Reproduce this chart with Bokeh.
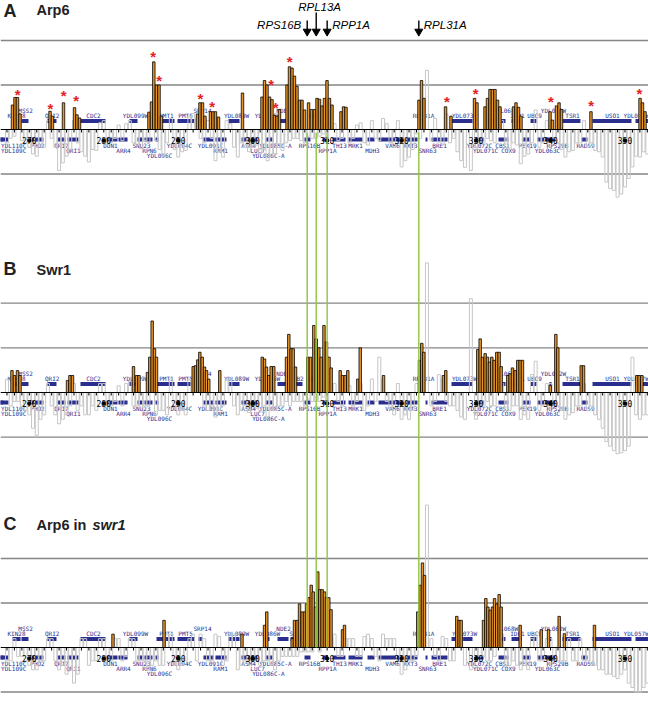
from bokeh.plotting import figure
from bokeh.models import Range1d
from bokeh.core.properties import value
from bokeh.embed import file_html
from bokeh.resources import INLINE

# ---------------- data (kb on chromosome IV, enrichment units) ----------------
a_orange_kb = [267.74, 268.08, 268.41, 268.75, 272.78, 273.11, 274.59, 276.07, 276.40, 276.74,
               286.07, 286.41, 286.72, 287.08, 287.42, 287.75, 292.59, 292.92, 293.26, 293.59,
               294.33, 294.67, 295.00, 295.41, 298.63, 301.25, 301.59, 301.92, 302.26, 302.59,
               302.93, 303.26, 303.60, 304.61, 304.94, 305.28, 305.61, 305.95, 306.29, 306.62,
               306.96, 307.50, 307.90, 308.30, 308.64, 308.97, 309.31, 309.64, 309.98, 310.31,
               310.65, 311.86, 312.20, 312.53, 322.33, 322.67, 323.00, 325.90, 326.63, 329.79,
               330.12, 331.20, 331.53, 331.87, 332.20, 332.54, 332.88, 333.21, 335.03, 335.36,
               335.70, 336.03, 339.93, 340.26, 340.80, 341.14, 341.47, 345.43, 352.02, 352.35,
               352.69]
a_orange_val = [0.55, 0.72, 0.72, 0.35, 0.41, 0.30, 0.60, 0.49, 0.33, 0.26,
                0.39, 0.62, 1.52, 1.00, 1.00, 0.30, 0.35, 0.60, 0.60, 0.30,
                0.40, 0.40, 0.40, 0.28, 0.82, 0.73, 1.10, 1.00, 0.73, 0.67,
                0.32, 0.30, 0.45, 1.00, 1.41, 1.38, 1.20, 0.97, 0.66, 0.66,
                0.44, 0.60, 0.45, 0.45, 0.70, 0.68, 0.53, 0.70, 1.10, 0.70,
                0.55, 0.40, 0.51, 0.50, 0.66, 1.10, 0.70, 0.51, 0.30, 0.70,
                0.60, 0.51, 0.70, 0.90, 0.90, 0.90, 0.66, 0.51, 0.51, 0.60,
                0.50, 0.30, 0.40, 0.21, 0.53, 0.60, 0.45, 0.40, 0.70, 0.60,
                0.40]

b_orange_kb = [267.67, 268.01, 268.41, 268.75, 275.13, 275.46, 275.80, 283.99, 284.40, 284.73,
               285.87, 286.18, 286.50, 286.81, 287.08, 292.01, 292.32, 292.63, 292.90, 293.22,
               293.53, 293.80, 294.10, 295.58, 301.28, 301.59, 301.85, 302.16, 302.48, 302.83,
               304.54, 304.85, 305.17, 305.44, 305.75, 307.40, 307.76, 308.21, 308.53, 308.88,
               309.20, 309.57, 309.91, 310.25, 310.54, 311.75, 312.06, 312.42, 312.77, 314.12,
               314.44, 317.57, 322.40, 322.71, 322.98, 325.62, 325.93, 330.23, 330.55, 330.86,
               331.22, 331.53, 331.80, 332.11, 332.43, 332.78, 333.10, 333.37, 334.26, 334.58,
               334.89, 335.25, 335.60, 335.92, 336.23, 339.96, 340.71, 340.98, 344.12, 344.43,
               351.59, 351.90, 352.26]
b_orange_val = [0.49, 0.38, 0.49, 0.38, 0.27, 0.38, 0.38, 0.58, 0.38, 0.38,
                0.45, 0.79, 1.60, 0.98, 0.79, 0.58, 0.60, 0.73, 0.90, 0.79,
                0.57, 0.49, 0.30, 0.49, 0.79, 0.75, 0.57, 0.38, 0.58, 0.58,
                0.79, 1.30, 0.98, 0.98, 0.57, 0.79, 0.79, 1.50, 1.20, 1.00,
                0.79, 1.50, 1.13, 0.79, 0.55, 0.49, 0.38, 0.38, 0.49, 0.30,
                1.00, 0.38, 0.72, 1.10, 0.90, 0.38, 0.49, 0.96, 1.20, 0.79,
                0.87, 0.79, 0.68, 0.79, 0.72, 0.90, 0.90, 0.58, 0.38, 0.42,
                0.55, 0.49, 0.72, 0.72, 0.72, 0.16, 1.30, 1.00, 0.60, 0.60,
                0.38, 0.38, 0.38]

c_orange_kb = [281.24, 288.09, 298.56, 301.59, 301.89, 305.30, 305.61, 305.97, 306.29, 306.65,
               306.96, 307.23, 307.54, 307.86, 308.13, 308.44, 308.74, 309.01, 309.33, 309.64,
               309.91, 310.22, 310.52, 312.06, 312.33, 322.17, 322.49, 322.80, 323.07, 327.41,
               327.73, 328.00, 331.00, 331.31, 331.58, 331.90, 332.21, 332.48, 332.78, 333.10,
               333.37, 335.92, 338.75, 339.73, 341.16, 341.87, 345.90]
c_orange_val = [0.30, 0.61, 0.30, 0.50, 0.80, 0.20, 0.61, 0.61, 0.98, 0.80,
                0.80, 0.98, 1.12, 1.40, 1.25, 0.91, 1.70, 1.30, 1.30, 1.25,
                1.12, 1.12, 0.85, 0.40, 0.50, 0.80, 1.40, 1.90, 1.62, 0.70,
                0.61, 0.61, 0.61, 1.10, 0.91, 0.84, 0.91, 1.10, 0.98, 1.19,
                0.91, 0.50, 0.40, 0.40, 0.70, 0.31, 0.50]

probe_kb = [267, 268, 269, 270, 271, 272, 273, 274, 275, 276, 277, 278, 279, 280, 281, 282,
            283, 284, 285, 286, 287, 288, 289, 290, 291, 292, 293, 294, 295, 296, 297, 298,
            299, 300, 301, 302, 303, 304, 305, 306, 307, 308, 309, 310, 311, 312, 313, 314,
            315, 316, 317, 318, 319, 320, 321, 322, 323.4, 324, 325, 326, 327, 328, 329.3,
            330, 331, 332, 333, 334, 335, 336, 337, 338, 339, 340, 341, 342, 343, 344, 345,
            346, 347, 348, 349, 350, 351, 352, 353]
a_gray = [-0.30, -0.15, -0.25, -0.40, -0.60, -0.40, -0.20, -0.92, -0.60, 0.20, -0.50, -0.73,
          -0.47, 0.20, -0.30, 0.10, 0.13, -0.30, -0.43, -0.30, -0.25, -0.62, 0.25, -0.62,
          -0.47, 0.36, -0.20, 0.20, -0.70, -0.62, 0.13, -0.62, -0.40, -0.40, -0.55, -0.70,
          -0.55, -0.47, -0.25, -0.20, -0.30, -0.20, -0.15, -0.20, 0.13, -0.20, -0.30, 0.10,
          -0.30, 0.20, -0.25, 0.13, -0.40, -0.84, -0.62, -0.10, 1.33, -0.25, -0.28, 0.36,
          -0.20, -0.70, -0.92, -0.40, -0.30, -0.25, 0.25, -0.40, -0.30, -0.77, -0.55, 0.44,
          -0.30, 0.15, -0.30, -0.62, -0.47, -0.30, -0.40, -0.47, -0.62, -1.33, -1.52, -1.29,
          -0.84, -0.62, -0.55]
b_gray = [0.30, -0.20, -0.30, -0.50, -0.96, -0.50, -0.30, -0.70, -0.50, 0.20, -0.30, -0.50,
          -0.40, 0.20, -0.30, 0.15, 0.20, -0.30, -0.35, -0.30, -0.50, -0.40, 0.30, -0.50,
          -0.50, 0.30, 0.20, -0.40, -0.55, -0.30, 0.30, -0.50, -0.30, -0.30, -0.40, -0.55,
          -0.40, -0.30, -0.30, -0.20, -0.30, -0.20, -0.20, -0.20, 0.20, -0.30, 0.15, -0.20,
          -0.40, 0.30, 0.79, -0.20, -0.50, -0.60, -0.60, 0.20, 2.90, -0.30, 0.40, -0.20,
          -0.30, -0.55, 2.10, -0.60, -0.30, -0.30, 0.30, -0.40, -0.30, -0.60, -0.60, 0.70,
          -0.30, 0.20, -0.30, -0.60, -0.45, -0.30, -0.40, -0.50, -0.80, -1.20, -1.37, -1.30,
          0.79, -0.60, -0.50]
c_gray = [-0.30, 0.20, -0.20, -0.40, -0.50, -0.30, 0.20, -0.50, -0.60, -0.80, 0.20, -0.40,
          -0.30, 0.20, -0.30, 0.20, -0.20, 0.20, -0.30, -0.50, -0.30, -0.40, 0.30, -0.50,
          -0.30, 0.30, 0.30, -0.30, 0.30, -0.40, 0.30, -0.50, -0.30, -0.30, -0.40, -0.30,
          -0.50, -0.20, -0.20, -0.20, -0.10, -0.10, -0.10, 0.20, 0.30, -0.20, 0.20, -0.20,
          0.25, 0.20, -0.30, 0.20, 0.20, -0.60, -0.30, -0.20, 3.20, 0.20, -0.30, 0.20,
          -0.30, 0.30, -0.50, -0.30, -0.20, -0.30, 0.30, -0.40, -0.30, -0.50, -0.50, 0.30,
          -0.30, 0.20, -0.30, -0.30, -0.30, 0.20, -0.30, -0.40, -0.50, -0.60, -0.70, -0.50,
          -0.90, -1.00, -0.80]

probe2_kb = [267.5, 268.5, 269.5, 270.5, 271.5, 272.5, 273.5, 274.5, 275.5, 276.5,
             277.5, 278.5, 279.5, 280.5, 281.5, 282.5, 283.5, 284.5, 285.5, 286.5,
             287.5, 288.5, 289.5, 290.5, 291.5, 292.5, 293.5, 294.5, 295.5, 296.5,
             297.5, 298.5, 299.5, 300.5, 301.5, 302.5, 303.5, 304.5, 305.5, 306.5,
             307.5, 308.5, 309.5, 310.5, 311.5, 312.5, 313.5, 314.5, 315.5, 316.5,
             317.5, 318.5, 319.5, 320.5, 321.5, 322.5, 324.5, 325.5, 326.5, 327.5,
             328.5, 330.5, 331.5, 332.5, 333.5, 334.5, 335.5, 336.5, 337.5, 338.5,
             339.5, 340.5, 341.5, 342.5, 343.5, 344.5, 345.5, 346.5, 347.5, 348.5,
             349.5, 350.5, 351.5, 352.5]
a_gray2 = [-0.20, 0.15, -0.30, -0.55, -0.35, 0.20, -0.40, -0.75, -0.45, -0.30,
           -0.60, -0.45, 0.15, -0.35, -0.20, -0.25, 0.20, -0.35, -0.25, 0.30,
           -0.45, -0.30, -0.45, -0.50, 0.30, 0.25, -0.30, -0.20, -0.50, 0.20,
           -0.40, -0.30, -0.50, -0.35, -0.45, -0.60, -0.40, -0.30, -0.20, -0.25,
           -0.15, -0.20, -0.10, 0.15, -0.25, 0.20, -0.20, 0.15, -0.35, -0.20,
           0.25, -0.30, 0.20, -0.70, -0.45, -0.20, 0.25, -0.35, -0.30, -0.50,
           -0.85, -0.30, -0.20, -0.30, 0.20, -0.45, -0.35, -0.60, -0.30, -0.40,
           0.20, -0.20, -0.45, -0.50, -0.30, 0.20, -0.30, -0.50, -1.18, -1.37,
           -1.45, -1.10, -0.60, -0.50]
b_gray2 = [-0.30, -0.20, -0.40, -0.80, -0.60, 0.20, -0.50, -0.60, -0.30, -0.40,
           -0.50, -0.30, 0.20, -0.30, -0.20, -0.30, 0.25, -0.30, -0.30, 0.30,
           -0.40, -0.50, -0.30, -0.40, 0.30, 0.20, -0.30, -0.30, -0.40, 0.30,
           -0.30, -0.40, -0.45, -0.35, -0.30, -0.40, -0.30, -0.20, -0.20, -0.20,
           -0.15, -0.20, -0.10, 0.20, -0.20, 0.20, -0.30, 0.20, -0.30, -0.20,
           0.30, -0.35, 0.20, -0.50, -0.40, 0.25, -0.20, 0.30, -0.30, -0.40,
           -0.60, -0.30, -0.20, -0.30, 0.20, -0.40, -0.30, -0.50, 0.40, -0.40,
           0.20, -0.30, -0.40, -0.50, -0.30, 0.20, -0.30, -0.60, -1.10, -1.30,
           -1.35, -1.20, -0.50, -0.50]
c_gray2 = [-0.30, -0.20, -0.30, -0.50, -0.30, 0.20, -0.30, -0.40, -0.50, -0.60,
           0.20, -0.30, 0.20, -0.30, 0.20, -0.30, 0.20, -0.30, -0.30, -0.40,
           -0.40, 0.30, -0.40, -0.40, 0.20, -0.30, 0.20, -0.30, 0.25, -0.30,
           0.30, -0.40, -0.30, -0.30, -0.30, -0.40, -0.30, -0.20, -0.20, -0.10,
           -0.10, 0.15, 0.20, 0.20, -0.20, 0.20, 0.20, -0.20, 0.30, -0.20,
           0.30, 0.20, -0.30, -0.50, -0.30, 0.20, -0.20, 0.25, -0.30, 0.20,
           -0.40, -0.20, -0.30, -0.20, 0.30, -0.40, -0.40, -0.40, 0.20, -0.30,
           0.20, -0.30, -0.30, 0.20, -0.30, -0.30, -0.40, -0.50, -0.60, -0.65,
           -0.60, -0.80, -1.00, -0.90]

star_kb = [268.45, 272.85, 274.63, 276.30, 286.64, 287.44, 292.99, 294.56, 302.49, 303.10,
           304.98, 326.07, 329.96, 340.04, 345.46, 351.95]
star_val = [0.88, 0.56, 0.86, 0.75, 1.72, 1.19, 0.78, 0.61, 1.09, 0.59,
            1.62, 0.73, 0.89, 0.73, 0.63, 0.89]

up_names = ["KIN28", "MSS2", "QRI2", "CDC2", "YDL099W", "PMT1", "PMT5", "SRP14", "YDL089W",
            "YDL086W", "NDE2", "SUB2", "RPL13A", "RPL31A", "YDL073W", "BDF2", "YDL068W", "IDP1",
            "UBC9", "YDL062W", "TSR1", "USO1", "YDL057W"]
up_start = [267.74, 268.95, 272.44, 276.87, 283.45, 287.08, 289.90, 292.72, 296.75, 301.45,
            303.33, 305.08, 308.43, 322.27, 326.70, 331.13, 333.41, 334.76, 337.31, 339.86,
            341.61, 345.64, 351.41]
up_end = [268.82, 269.89, 273.65, 280.23, 284.53, 289.50, 292.19, 293.26, 298.23, 302.26,
          304.81, 306.69, 309.37, 322.94, 329.52, 333.01, 333.95, 336.10, 338.11, 340.13,
          344.02, 350.87, 353.16]
up_label = [268.28, 269.49, 273.07, 278.62, 284.26, 288.42, 290.98, 293.26, 297.83, 301.99,
            304.14, 305.88, 308.97, 322.94, 328.45, 332.07, 333.95, 335.56, 337.85, 340.40,
            342.95, 348.32, 351.50]
up_row = [1, 2, 1, 1, 1, 1, 1, 2, 1, 1, 2, 1, 1, 1, 1, 1, 2, 1, 1, 2, 1, 1, 1]

lo_names = ["YDL110C", "YDL109C", "PHO2", "QRI7", "QRI1", "DUN1", "ARR4", "SNU23", "RPN6",
            "YDL096C", "YDL094C", "YDL091C", "RAM1", "ASM4", "LUC7", "YDL086C-A", "YDL085C-A",
            "RPS16B", "RPP1A", "THI3", "MRK1", "MDH3", "VAM6", "RXT3", "SNR63", "BRE1",
            "YDL072C", "YDL071C", "CBS1", "COX9", "PEX19", "YDL063C", "RPS29B", "RAD59"]
lo_start = [265.50, 266.13, 270.16, 273.78, 275.13, 280.37, 281.98, 284.53, 285.47, 286.95,
            289.77, 293.39, 295.00, 298.50, 299.44, 301.72, 302.26, 306.96, 309.37, 310.72,
            312.87, 315.42, 316.90, 320.52, 323.21, 324.02, 329.92, 330.60, 333.01, 334.09,
            336.24, 338.25, 339.99, 344.16]
lo_end = [266.50, 267.20, 271.90, 274.86, 276.60, 281.84, 283.19, 285.33, 286.54, 287.35,
          290.30, 294.74, 296.48, 299.44, 300.65, 302.12, 302.66, 307.76, 310.05, 312.46,
          314.75, 316.36, 320.12, 322.13, 323.48, 326.16, 330.60, 331.00, 333.95, 334.35,
          337.31, 340.13, 340.67, 344.96]
lo_label = [267.90, 267.90, 271.10, 274.32, 275.93, 280.90, 282.65, 285.07, 286.14, 287.48,
            290.17, 294.33, 295.68, 299.44, 300.65, 302.12, 303.06, 307.63, 310.05, 311.66,
            313.81, 316.09, 318.78, 321.19, 323.48, 325.09, 330.46, 331.27, 333.55, 334.35,
            336.91, 339.59, 340.93, 344.70]
lo_row = [1, 2, 1, 1, 2, 1, 2, 1, 2, 3, 1, 1, 2, 1, 2, 3, 1, 1, 2, 1, 1, 2, 1, 1, 2, 1,
          1, 2, 1, 2, 1, 2, 1, 1]

tick_kb = list(range(267, 354))
major_kb = [270, 280, 290, 300, 310, 320, 330, 340, 350]
major_lbl = ["270", "280", "290", "300", "310", "320", "330", "340", "350"]
grid_levels = [2, 1, -1]

ribo_genes = ["RPS16B", "RPL13A", "RPP1A", "RPL31A"]
ribo_kb = [307.32, 308.53, 310.00, 322.31]

# ---------------- layout ----------------
W, H = 648, 718
KB0 = 266.13                       # chromosome position at the left edge
KB1 = KB0 + W / 7.446              # 7.446 px per kb
panels = [("A", "Arp6", 129, 44.5, a_orange_kb, a_orange_val, a_gray, a_gray2),
          ("B", "Swr1", 392, 44.7, b_orange_kb, b_orange_val, b_gray, b_gray2),
          ("C", "Arp6 in ", 647, 44.5, c_orange_kb, c_orange_val, c_gray, c_gray2)]

p = figure(width=W, height=H, x_range=Range1d(KB0, KB1), y_range=Range1d(H, 0),
           output_backend="svg", toolbar_location=None, min_border=0, title=None,
           x_axis_location=None, y_axis_location=None)
p.grid.visible = False
p.outline_line_color = None
p.background_fill_color = "white"
p.extra_x_ranges = {"px": Range1d(0, W)}
p.extra_y_ranges = {k: Range1d((y0 - H) / u, y0 / u) for k, _, y0, u, *_ in panels}

ORANGE = "#e8962a"
NAVY = "#2a2f8f"
GRAY = "#c6c6c6"
MONO = value("DejaVu Sans Mono")
SANS = value("Liberation Sans")

UP_OFF = {1: -14.0, 2: -19.5}
LO_OFF = {1: 16.0, 2: 21.0, 3: 26.0}

for key, name, y0, u, okb, oval, gval, gval2 in panels:
    # reference lines
    p.segment(x0=[KB0] * 3, x1=[KB1] * 3, y0=grid_levels, y1=grid_levels,
              line_color="#858585", line_width=1.3, y_range_name=key)
    # gene track
    p.quad(left=up_start, right=up_end, bottom=[y0 - 6.5] * len(up_start),
           top=[y0 - 10.5] * len(up_start), fill_color=NAVY, line_color=None)
    p.quad(left=lo_start, right=lo_end, bottom=[y0 + 12] * len(lo_start),
           top=[y0 + 8] * len(lo_start), fill_color=NAVY, line_color=None)
    p.text(x=up_label, y=[y0 + UP_OFF[r] for r in up_row], text=up_names,
           text_font=MONO, text_font_size="6px", text_color=NAVY,
           text_align="center", text_baseline="middle")
    p.text(x=lo_label, y=[y0 + LO_OFF[r] for r in lo_row], text=lo_names,
           text_font=MONO, text_font_size="6px", text_color=NAVY,
           text_align="center", text_baseline="middle")
    # probes
    p.vbar(x=probe_kb, width=0.4, top=gval, bottom=0, fill_alpha=0,
           line_color=GRAY, line_width=1, y_range_name=key)
    p.vbar(x=probe2_kb, width=0.4, top=gval2, bottom=0, fill_alpha=0,
           line_color=GRAY, line_width=1, y_range_name=key)
    p.vbar(x=okb, width=0.33, top=oval, bottom=0, fill_color=ORANGE,
           line_color="black", line_width=0.8, y_range_name=key)
    # axis
    p.segment(x0=[KB0], x1=[KB1], y0=[0], y1=[0], line_color="black",
              line_width=1.2, y_range_name=key)
    p.segment(x0=tick_kb, x1=tick_kb, y0=[y0] * len(tick_kb), y1=[y0 + 3] * len(tick_kb),
              line_color="black", line_width=1)
    p.text(x=major_kb, y=[y0 + 11] * len(major_kb), text=major_lbl, text_font=MONO,
           text_font_size="8px", text_color="black", text_align="center",
           text_baseline="middle")
    p.scatter(x=major_kb, y=[y0 + 11] * len(major_kb), size=3.5, color="black")

# significance stars (panel A)
p.text(x=star_kb, y=star_val, text=["*"] * len(star_kb), y_range_name="A",
       text_font=SANS, text_font_size="15px", text_font_style="bold",
       text_color="#e41e26", text_align="center", text_baseline="middle", y_offset=4)

# ribosomal-protein gene guide lines
p.segment(x0=ribo_kb, x1=ribo_kb, y0=[132] * 4, y1=[647] * 4,
          line_color="#8dc63f", line_width=1.4)

# arrows at top
p.segment(x0=ribo_kb, x1=ribo_kb, y0=[20, 12, 20, 20], y1=[30] * 4,
          line_color="black", line_width=1.4)
p.scatter(x=ribo_kb, y=[31] * 4, marker="inverted_triangle", size=8,
          fill_color="black", line_color="black")
p.text(x=[ribo_kb[0]], y=[30.5], text=[ribo_genes[0]], text_font=SANS,
       text_font_size="11.5px", text_font_style="italic", text_align="right",
       x_offset=-6)
p.text(x=[ribo_kb[1]], y=[0.5], text=[ribo_genes[1]], text_font=SANS,
       text_font_size="11.5px", text_font_style="italic", text_align="left",
       text_baseline="top", x_offset=-18)
p.text(x=ribo_kb[2:], y=[30.5, 30.5], text=ribo_genes[2:], text_font=SANS,
       text_font_size="11.5px", text_font_style="italic", text_align="left",
       x_offset=5)

# panel titles
p.text(x=[3], y=[0.5], text=["A"], x_range_name="px", text_baseline="top",
       text_font=SANS, text_font_size="18px", text_font_style="bold", text_color="#222222")
p.text(x=[36], y=[1], text=["Arp6"], x_range_name="px", text_baseline="top",
       text_font=SANS, text_font_size="14.5px", text_font_style="bold", text_color="#222222")
p.text(x=[3, 3], y=[278, 533], text=["B", "C"], x_range_name="px",
       text_font=SANS, text_font_size="18px", text_font_style="bold", text_color="#222222")
p.text(x=[36, 36], y=[277, 532], text=[panels[1][1], panels[2][1]], x_range_name="px",
       text_font=SANS, text_font_size="14.5px", text_font_style="bold", text_color="#222222")
p.text(x=[92], y=[532], text=["swr1"], x_range_name="px", text_font=SANS,
       text_font_size="14.5px", text_font_style="bold italic", text_color="#222222")

open("out.html", "w").write(file_html(p, INLINE))
